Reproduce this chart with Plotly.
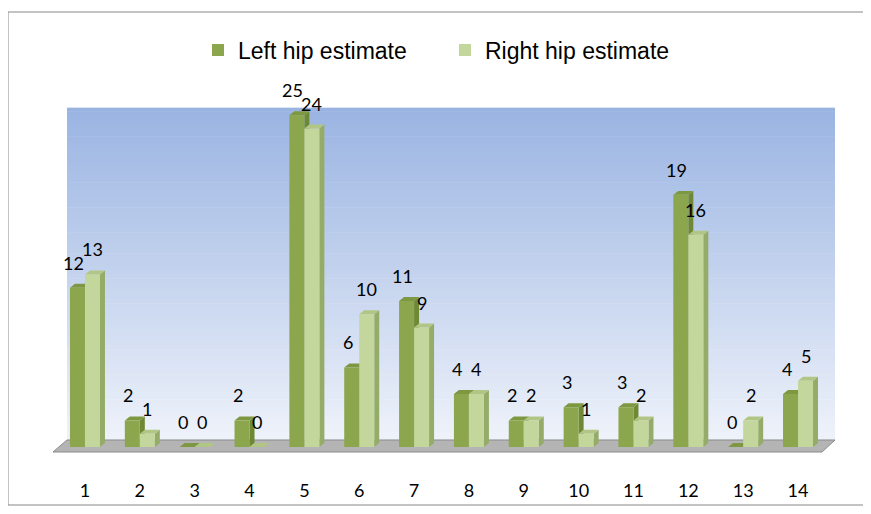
import plotly.graph_objects as go

# ---- data ----
categories = [1, 2, 3, 4, 5, 6, 7, 8, 9, 10, 11, 12, 13, 14]
tick_labels = [str(c) for c in categories]
left_hip = [12, 2, 0, 2, 25, 6, 11, 4, 2, 3, 3, 19, 0, 4]
right_hip = [13, 1, 0, 0, 24, 10, 9, 4, 2, 1, 2, 16, 2, 5]
series_names = ["Left hip estimate", "Right hip estimate"]

# ---- layout geometry (pixels, target-page coordinates) ----
W, H = 871, 514
OFF = 8  # page body margin
ML, MR, MT, MB = 53 - OFF, 36 + OFF, 107 - OFF, 62 + OFF
PW, PH = W - ML - MR, H - MT - MB


def px_x(px):
    return (px - OFF - ML) / PW


def px_y(py):
    return (H - MB - (py - OFF)) / PH


X_RANGE = [0.417, 14.674]
Y_RANGE = [-0.377, 25.622]

BAR_W = 0.2735   # width of one bar (category units)
DX = 0.091       # 3D depth in x
DY = 0.30        # 3D depth in y

styles = [
    dict(front="#8CA64D", side="#6E8834", top="#7D9840"),
    dict(front="#C3D69B", side="#95AB68", top="#B1C585"),
]

fig = go.Figure()


def poly_trace(polys, color):
    xs, ys = [], []
    for p in polys:
        for (a, b) in p:
            xs.append(a)
            ys.append(b)
        xs.append(p[0][0])
        ys.append(p[0][1])
        xs.append(None)
        ys.append(None)
    return go.Scatter(x=xs, y=ys, mode="lines", fill="toself", fillcolor=color,
                      line=dict(width=0, color=color), showlegend=False,
                      hoverinfo="skip")


for si, vals in enumerate([left_hip, right_hip]):
    st = styles[si]
    sides, tops, fronts = [], [], []
    for c, v in zip(categories, vals):
        x0 = c - BAR_W if si == 0 else c
        x1 = x0 + BAR_W
        sides.append([(x1, 0), (x1 + DX, DY), (x1 + DX, v + DY), (x1, v)])
        tops.append([(x0, v), (x0 + DX, v + DY), (x1 + DX, v + DY), (x1, v)])
        if v > 0:
            fronts.append([(x0, 0), (x1, 0), (x1, v), (x0, v)])
    fig.add_trace(poly_trace(sides, st["side"]))
    fig.add_trace(poly_trace(tops, st["top"]))
    fig.add_trace(poly_trace(fronts, st["front"]))

# legend entries (square markers)
for name, st in zip(series_names, styles):
    fig.add_trace(go.Scatter(x=[None], y=[None], name=name, mode="markers",
                             marker=dict(symbol="square", size=12, color=st["front"],
                                         line=dict(width=0)),
                             showlegend=True))

# data labels
annotations = []
for si, vals in enumerate([left_hip, right_hip]):
    for c, v in zip(categories, vals):
        xc = c - BAR_W / 2 if si == 0 else c + BAR_W / 2
        annotations.append(dict(x=xc, y=v, xref="x", yref="y", text=str(v),
                                showarrow=False, xshift=-4 if si == 0 else 0,
                                yshift=25,
                                font=dict(family="Lato", size=18, color="black")))

# ---- background shapes ----
shapes = []
# outer border
shapes.append(dict(type="rect", xref="paper", yref="paper",
                   x0=px_x(8), x1=px_x(866), y0=px_y(505), y1=px_y(12),
                   line=dict(color="#878787", width=1), fillcolor="white",
                   layer="below"))
# gradient back wall
top_c = (0x9A, 0xB4, 0xE2)
bot_c = (0xEE, 0xF2, 0xFA)
wall_top, wall_bot = 107, 441
N = 80
for i in range(N):
    t = i / (N - 1)
    col = tuple(round(top_c[k] + (bot_c[k] - top_c[k]) * t) for k in range(3))
    y0 = wall_top + (wall_bot - wall_top) * i / N
    y1 = wall_top + (wall_bot - wall_top) * (i + 1) / N
    shapes.append(dict(type="rect", xref="paper", yref="paper",
                       x0=px_x(67), x1=px_x(835), y0=px_y(y1 + 0.6), y1=px_y(y0),
                       line=dict(width=0), fillcolor="rgb(%d,%d,%d)" % col,
                       layer="below"))
shapes.append(dict(type="line", xref="paper", yref="paper",
                   x0=px_x(67), x1=px_x(835), y0=px_y(107.5), y1=px_y(107.5),
                   line=dict(color="#DCE4F4", width=1), layer="below"))
# floor slab
fx = [px_x(p) for p in (67, 835, 822, 53)]
fy = [px_y(p) for p in (440, 440, 452, 452)]
path = "M %f,%f L %f,%f L %f,%f L %f,%f Z" % (fx[0], fy[0], fx[1], fy[1], fx[2], fy[2], fx[3], fy[3])
shapes.append(dict(type="path", xref="paper", yref="paper", path=path,
                   fillcolor="#B4B4B4", line=dict(color="#8A8A8A", width=1),
                   layer="below"))

fig.update_layout(
    width=W, height=H,
    margin=dict(l=ML, r=MR, t=MT, b=MB, pad=0),
    paper_bgcolor="white", plot_bgcolor="rgba(0,0,0,0)",
    shapes=shapes,
    annotations=annotations,
    showlegend=True,
    legend=dict(orientation="h", x=px_x(198), xanchor="left",
                y=px_y(50), yanchor="middle",
                entrywidth=202, entrywidthmode="pixels",
                font=dict(family="Liberation Sans", size=23, color="black"),
                bgcolor="rgba(0,0,0,0)", itemclick=False),
    xaxis=dict(range=X_RANGE, tickvals=categories, ticktext=tick_labels,
               showgrid=False, zeroline=False, showline=False, ticks="",
               ticklabelstandoff=26,
               tickfont=dict(family="Lato", size=18, color="black"),
               fixedrange=True),
    yaxis=dict(range=Y_RANGE, showgrid=False, zeroline=False, showline=False,
               showticklabels=False, ticks="", fixedrange=True),
)

fig.write_html("out.html")
